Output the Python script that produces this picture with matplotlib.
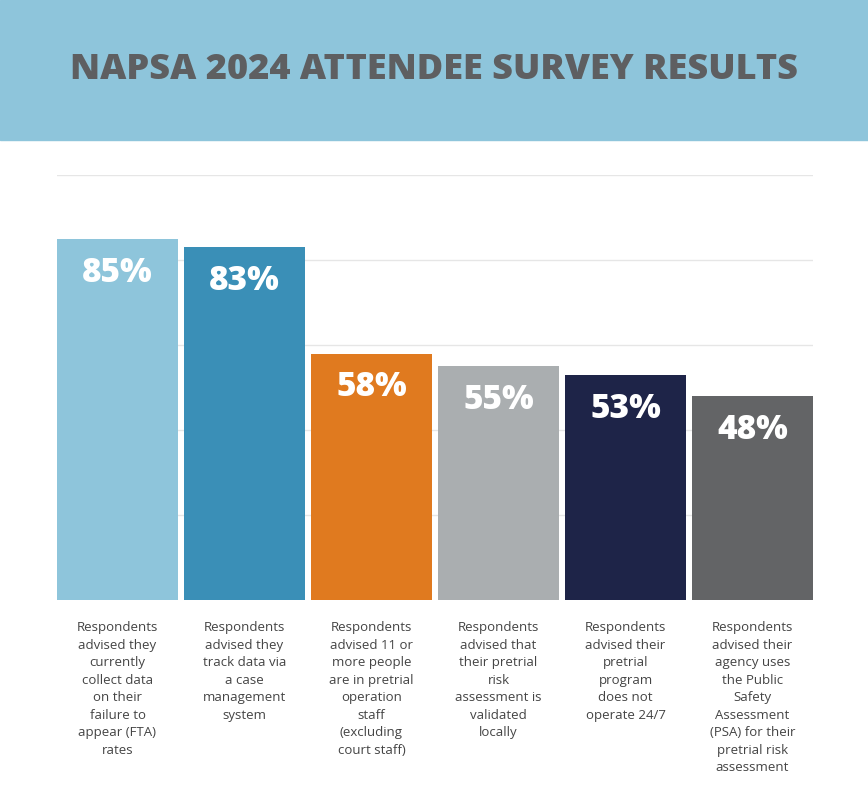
import matplotlib.pyplot as plt
import matplotlib.patches as mpatches

W, H = 868, 799

values = [85, 83, 58, 55, 53, 48]
colors = ["#8EC5DB", "#3A8FB7", "#E07A1F", "#AAAEB0", "#1E2448", "#636466"]
labels = [
    "Respondents\nadvised they\ncurrently\ncollect data\non their\nfailure to\nappear (FTA)\nrates",
    "Respondents\nadvised they\ntrack data via\na case\nmanagement\nsystem",
    "Respondents\nadvised 11 or\nmore people\nare in pretrial\noperation\nstaff\n(excluding\ncourt staff)",
    "Respondents\nadvised that\ntheir pretrial\nrisk\nassessment is\nvalidated\nlocally",
    "Respondents\nadvised their\npretrial\nprogram\ndoes not\noperate 24/7",
    "Respondents\nadvised their\nagency uses\nthe Public\nSafety\nAssessment\n(PSA) for their\npretrial risk\nassessment",
]

plt.rcParams["font.family"] = ["Open Sans", "DejaVu Sans"]

fig = plt.figure(figsize=(W / 100, H / 100), dpi=100)

# header band
fig.patches.append(mpatches.Rectangle((0, 1 - 140 / H), 1, 140 / H, transform=fig.transFigure,
                                      color="#8EC5DB", zorder=0))
fig.text(0.5, 1 - 70 / H, "NAPSA 2024 ATTENDEE SURVEY RESULTS", ha="center", va="center",
         fontsize=26, fontweight="heavy", color="#5E5F61")

ax = fig.add_axes([57 / W, (H - 600) / H, 756 / W, 425 / H])
half = 121 / 127 / 2
ax.set_xlim(-half, 5 + half)
ax.set_ylim(0, 100)
for s in ax.spines.values():
    s.set_visible(False)
ax.set_xticks([])
ax.set_yticks([20, 40, 60, 80, 100])
ax.tick_params(left=False, labelleft=False)
ax.grid(axis="y", color="#E6E6E6", lw=1)
ax.set_axisbelow(True)

x = range(len(values))
ax.bar(x, values, width=2 * half, color=colors)

for i, v in enumerate(values):
    ax.text(i, v - 8, f"{v}%", ha="center", va="center", color="white",
            fontsize=24, fontweight="heavy")
    ax.text(i, -0.05, labels[i], ha="center", va="top", transform=ax.get_xaxis_transform(),
            fontsize=9.5, color="#444444", linespacing=1.45)

fig.savefig("out.png", dpi=100)
